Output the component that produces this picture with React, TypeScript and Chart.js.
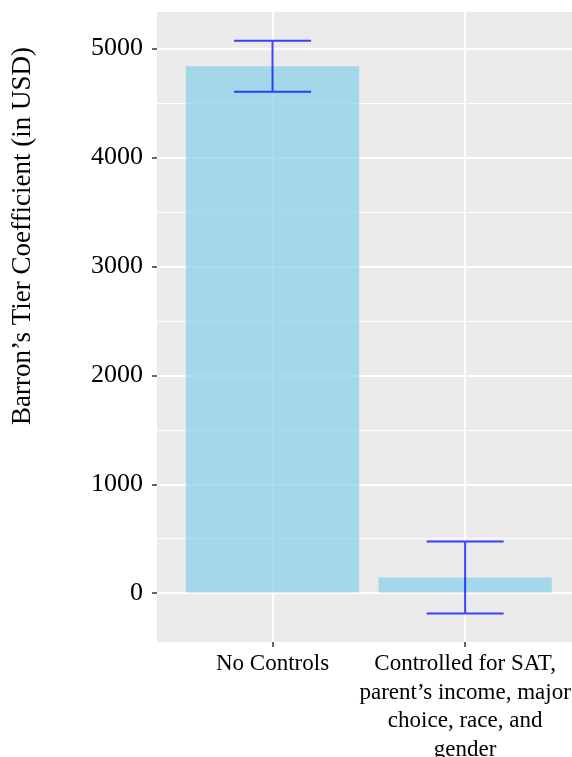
import React, { useEffect, useRef } from "react";
import { Chart, registerables } from "chart.js";

Chart.register(...registerables);

// ---- data ----
const categories: (string | string[])[] = [
  "No Controls",
  ["Controlled for SAT,", "parent’s income, major", "choice, race, and", "gender"],
];
const xPositions = [1, 2];
const coefficients = [4837, 147];
const lowerBounds = [4603, -183];
const upperBounds = [5072, 478];
const yTickValues = [0, 500, 1000, 1500, 2000, 2500, 3000, 3500, 4000, 4500, 5000];
const yTitle = "Barron’s Tier Coefficient (in USD)";

const SERIF = '"Liberation Serif", "Times New Roman", serif';

const panelBg = {
  id: "panelBg",
  beforeDraw(chart: any) {
    const { ctx, chartArea } = chart;
    ctx.save();
    ctx.fillStyle = "#EBEBEB";
    ctx.fillRect(chartArea.left, chartArea.top, chartArea.right - chartArea.left, chartArea.bottom - chartArea.top);
    ctx.restore();
  },
};

const errorBars = {
  id: "errorBars",
  afterDatasetsDraw(chart: any) {
    const { ctx } = chart;
    const xs = chart.scales.x;
    const ys = chart.scales.y;
    ctx.save();
    ctx.strokeStyle = "rgba(10,20,255,0.8)";
    ctx.lineWidth = 2;
    xPositions.forEach((xv, i) => {
      const cx = xs.getPixelForValue(xv);
      const half = xs.getPixelForValue(xv + 0.2) - cx;
      const yl = ys.getPixelForValue(lowerBounds[i]);
      const yh = ys.getPixelForValue(upperBounds[i]);
      ctx.beginPath();
      ctx.moveTo(cx, yl);
      ctx.lineTo(cx, yh);
      ctx.moveTo(cx - half, yl);
      ctx.lineTo(cx + half, yl);
      ctx.moveTo(cx - half, yh);
      ctx.lineTo(cx + half, yh);
      ctx.stroke();
    });
    ctx.restore();
  },
};

const yTitlePlugin = {
  id: "yTitlePlugin",
  afterDraw(chart: any) {
    const { ctx } = chart;
    ctx.save();
    ctx.translate(23, 236);
    ctx.rotate(-Math.PI / 2);
    ctx.font = `27px ${SERIF}`;
    ctx.fillStyle = "#000";
    ctx.textAlign = "center";
    ctx.textBaseline = "middle";
    ctx.fillText(yTitle, 0, 0);
    ctx.restore();
  },
};

export default function App() {
  const ref = useRef<HTMLCanvasElement>(null);
  useEffect(() => {
    if (!ref.current) return;
    const chart = new Chart(ref.current, {
      type: "bar",
      data: {
        datasets: [
          {
            data: xPositions.map((x, i) => ({ x, y: coefficients[i] })),
            backgroundColor: "rgba(135,206,235,0.7)",
            borderWidth: 0,
            categoryPercentage: 0.9,
            barPercentage: 1.0,
          } as any,
        ],
      },
      options: {
        animation: false,
        responsive: false,
        maintainAspectRatio: false,
        layout: { padding: { top: 12, left: 0, right: 0, bottom: 0 } },
        plugins: { legend: { display: false }, tooltip: { enabled: false }, title: { display: false } },
        scales: {
          x: {
            type: "linear",
            min: 0.4,
            max: 2.555,
            offset: false,
            border: { display: false },
            grid: { offset: false, color: "#FFFFFF", lineWidth: 2, tickColor: "#333333", tickLength: 5, tickWidth: 1.5 },
            ticks: {
              autoSkip: false,
              maxRotation: 0,
              padding: 3,
              color: "#000",
              font: { family: SERIF, size: 23, lineHeight: 1.24 },
              callback: (v: any) => {
                const idx = xPositions.indexOf(Number(v));
                return idx >= 0 ? (categories[idx] as any) : "";
              },
            },
            afterBuildTicks: (scale: any) => {
              scale.ticks = xPositions.map((v) => ({ value: v }));
            },
            afterFit: (scale: any) => {
              scale.height = 115;
              scale.paddingLeft = 0;
              scale.paddingRight = 0;
            },
          } as any,
          y: {
            type: "linear",
            min: -445,
            max: 5335,
            border: { display: false },
            grid: {
              color: "#FFFFFF",
              lineWidth: (c: any) => (c.tick && c.tick.value % 1000 === 0 ? 2 : 1),
              tickColor: (c: any) => (c.tick && c.tick.value % 1000 === 0 ? "#333333" : "rgba(0,0,0,0)"),
              tickLength: 5,
              tickWidth: 1.5,
            },
            ticks: {
              autoSkip: false,
              padding: 9,
              color: "#000",
              font: { family: SERIF, size: 26 },
              callback: (v: any) => (Number(v) % 1000 === 0 ? String(v) : ""),
            },
            afterBuildTicks: (scale: any) => {
              scale.ticks = yTickValues.map((v) => ({ value: v }));
            },
            afterFit: (scale: any) => {
              scale.width = 157;
              scale.paddingTop = 0;
              scale.paddingBottom = 0;
            },
          } as any,
        },
      },
      plugins: [panelBg, errorBars, yTitlePlugin],
    });
    return () => chart.destroy();
  }, []);
  return (
    <div style={{ position: "absolute", left: 0, top: 0, width: 572, height: 757, overflow: "hidden" }}>
      <canvas ref={ref} width={572} height={757} style={{ display: "block", width: 572, height: 757 }} />
    </div>
  );
}
